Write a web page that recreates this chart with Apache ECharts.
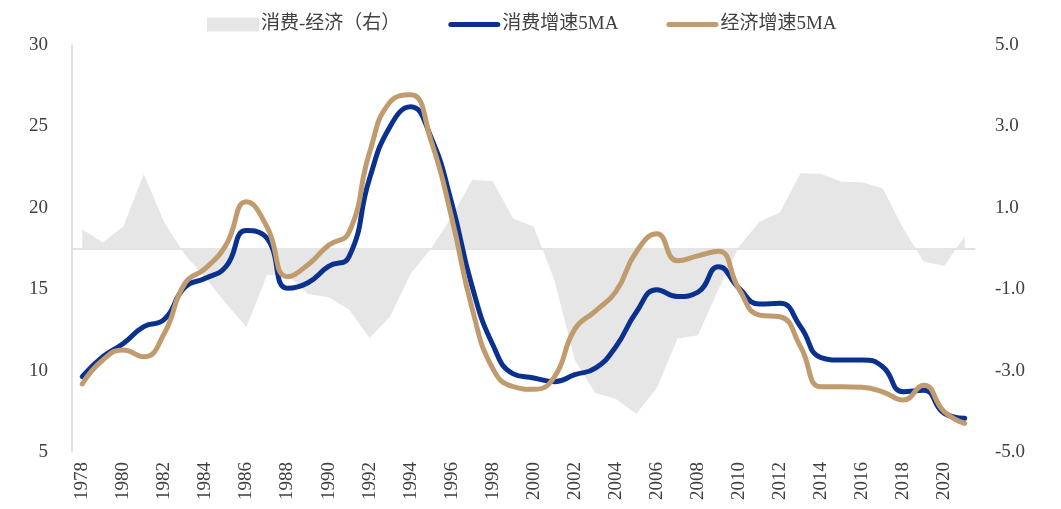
<!DOCTYPE html>
<html>
<head>
<meta charset="utf-8">
<script src="https://cdn.jsdelivr.net/npm/echarts@6/dist/echarts.min.js"></script>
<style>
html,body{margin:0;padding:0;background:#fff;}
#chart{width:1061px;height:509px;}
</style>
</head>
<body>
<div id="chart"></div>
<script>
const years = ['1978','1979','1980','1981','1982','1983','1984','1985','1986','1987','1988','1989','1990','1991','1992','1993','1994','1995','1996','1997','1998','1999','2000','2001','2002','2003','2004','2005','2006','2007','2008','2009','2010','2011','2012','2013','2014','2015','2016','2017','2018','2019','2020','2021'];

const consumption5MA = [9.63,10.85,11.67,12.7,13.15,15.12,15.67,16.38,18.6,18.13,15.06,15.4,16.4,17.0,21.8,25.0,26.2,24.3,20.3,15.15,11.6,9.8,9.55,9.32,9.75,10.15,11.47,13.6,14.97,14.55,14.82,16.38,15.06,14.09,14.13,12.7,10.8,10.65,10.65,10.24,8.7,8.8,7.38,7.07];

const economy5MA = [9.18,10.65,11.27,10.85,12.29,15.36,16.28,17.71,20.37,18.84,15.77,16.5,17.7,18.5,23.4,26.5,26.95,24.1,19.4,13.8,10.14,9.01,8.85,9.6,12.55,13.65,14.85,17.3,18.4,16.75,17.05,17.33,15.0,13.41,13.31,11.47,9.01,9.01,8.97,8.7,8.19,9.1,7.48,6.76];

const diffRight = [0.47,0.15,0.54,1.83,0.63,-0.15,-0.72,-1.35,-1.93,-0.65,-0.65,-1.12,-1.2,-1.5,-2.2,-1.67,-0.62,0.0,0.78,1.68,1.66,0.73,0.54,-0.77,-2.74,-3.55,-3.7,-4.06,-3.43,-2.21,-2.13,-1.0,0.05,0.66,0.89,1.85,1.83,1.64,1.63,1.48,0.5,-0.32,-0.43,0.31];

const leftTicks = {min:5, max:30, interval:5};
const rightTicks = {min:-5, max:5, interval:2};

const names = ['消费-经济（右）','消费增速5MA','经济增速5MA'];

const serif = "'Liberation Serif','Noto Sans CJK SC',serif";
const lineIcon = 'path://M2.5,0 H49.5 A2.5,2.5 0 0 1 49.5,5 H2.5 A2.5,2.5 0 0 1 2.5,0 Z';
const chart = echarts.init(document.getElementById('chart'), null, {renderer:'canvas'});
chart.setOption({
  animation:false,
  backgroundColor:'#fff',
  textStyle:{fontFamily:serif},
  legend:{
    left:202, top:10,
    itemWidth:52, itemHeight:14, itemGap:48,
    symbolKeepAspect:true,
    textStyle:{fontSize:19, color:'#404040', fontFamily:serif, padding:[0,0,0,-3]},
    data:[
      {name:names[0], icon:'rect'},
      {name:names[1], icon:lineIcon},
      {name:names[2], icon:lineIcon}
    ]
  },
  grid:{left:72, right:86, top:45, bottom:57, containLabel:false},
  xAxis:{
    type:'category',
    data:years,
    boundaryGap:true,
    axisLine:{show:true, lineStyle:{color:'#D9D9D9', width:1.5}},
    axisTick:{show:false},
    axisLabel:{interval:1, rotate:90, margin:10, fontSize:19, color:'#404040', fontFamily:serif}
  },
  yAxis:[
    {
      type:'value', min:leftTicks.min, max:leftTicks.max, interval:leftTicks.interval,
      axisLine:{show:true, lineStyle:{color:'#D9D9D9', width:1.5}},
      axisTick:{show:false},
      splitLine:{show:false},
      axisLabel:{margin:24, fontSize:19, color:'#404040', fontFamily:serif}
    },
    {
      type:'value', min:rightTicks.min, max:rightTicks.max, interval:rightTicks.interval,
      position:'right',
      axisLine:{show:false},
      axisTick:{show:false},
      splitLine:{show:false},
      axisLabel:{margin:20, fontSize:19, color:'#404040', fontFamily:serif,
        formatter:function(v){return v.toFixed(1);}}
    }
  ],
  series:[
    {
      name:names[0], type:'line', yAxisIndex:1, data:diffRight,
      symbol:'none', smooth:false,
      lineStyle:{width:0, color:'#E6E6E6'},
      itemStyle:{color:'#E6E6E6'},
      areaStyle:{color:'#E6E6E6', opacity:1},
      z:1
    },
    {
      name:names[1], type:'line', yAxisIndex:0, data:consumption5MA,
      symbol:'none', smooth:true,
      lineStyle:{width:5, color:'#0B318F', cap:'round'},
      itemStyle:{color:'#0B318F'},
      z:3
    },
    {
      name:names[2], type:'line', yAxisIndex:0, data:economy5MA,
      symbol:'none', smooth:true,
      lineStyle:{width:5, color:'#BF9B6E', cap:'round'},
      itemStyle:{color:'#BF9B6E'},
      z:4
    }
  ]
});
</script>
</body>
</html>
